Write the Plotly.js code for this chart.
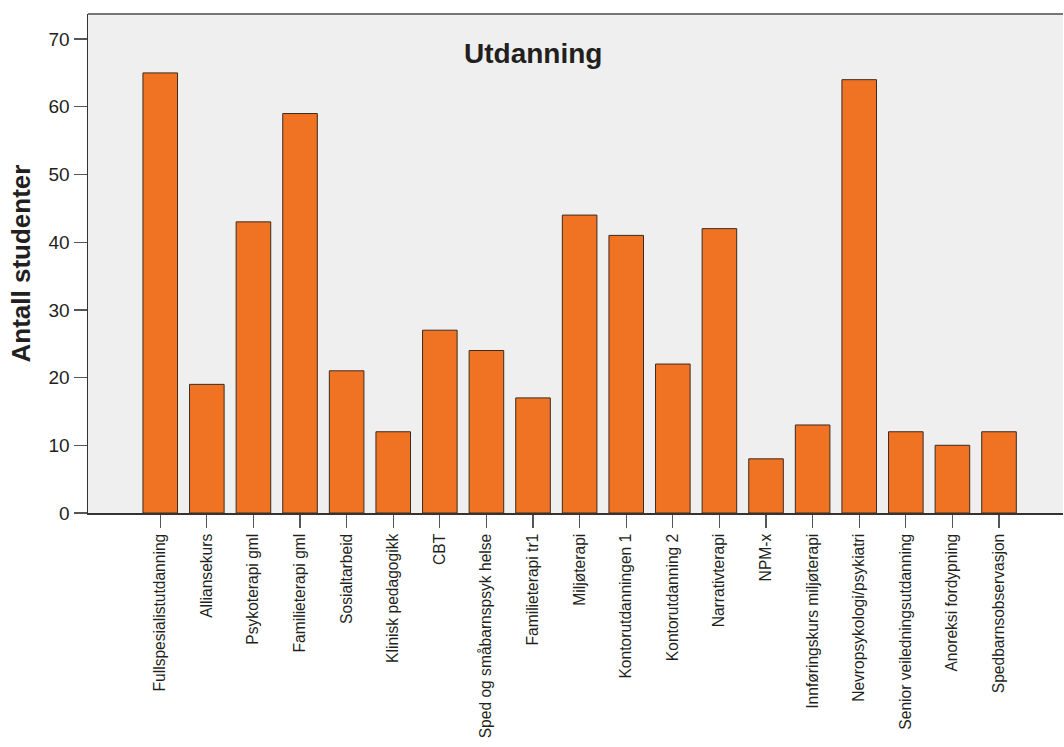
<!DOCTYPE html>
<html>
<head>
<meta charset="utf-8">
<script src="https://cdn.plot.ly/plotly-3.0.1.min.js"></script>
<style>html,body{margin:0;padding:0;background:#fff;}#chart{width:1064px;height:747px;}</style>
</head>
<body>
<div id="chart"></div>
<script>
const categories = [
  "Fullspesialistutdanning", "Alliansekurs", "Psykoterapi gml", "Familieterapi gml",
  "Sosialtarbeid", "Klinisk pedagogikk", "CBT", "Sped og småbarnspsyk helse",
  "Familieterapi tr1", "Miljøterapi", "Kontorutdanningen 1", "Kontorutdanning 2",
  "Narrativterapi", "NPM-x", "Innføringskurs miljøterapi", "Nevropsykologi/psykiatri",
  "Senior veiledningsutdanning", "Anoreksi fordypning", "Spedbarnsobservasjon"
];
const counts = [65, 19, 43, 59, 21, 12, 27, 24, 17, 44, 41, 22, 42, 8, 13, 64, 12, 10, 12];
const yTicks = [0, 10, 20, 30, 40, 50, 60, 70];
const chartTitle = "Utdanning";
const yTitle = "Antall studenter";

const font = "'Liberation Sans', Arial, Helvetica, sans-serif";
const textColor = "#231f20";

const trace = {
  type: "bar",
  x: categories,
  y: counts,
  marker: { color: "#f07323", line: { color: "#3d2a1f", width: 1 } },
  hoverinfo: "x+y"
};

const layout = {
  width: 1064,
  height: 747,
  margin: { l: 88, r: 1, t: 14, b: 234, pad: 0 },
  paper_bgcolor: "#ffffff",
  plot_bgcolor: "#eeefee",
  showlegend: false,
  bargap: 0.258,
  font: { family: font, color: textColor },
  xaxis: {
    type: "category",
    range: [-1.55, 19.373],
    showgrid: false,
    zeroline: false,
    showline: true,
    linecolor: "#333333",
    linewidth: 1.5,
    ticks: "outside",
    ticklen: 13,
    tickwidth: 1.3,
    tickcolor: "#555555",
    tickangle: -90,
    tickfont: { family: font, size: 15.6, color: textColor },
    automargin: false
  },
  yaxis: {
    range: [0, 73.7],
    tickvals: yTicks,
    showgrid: false,
    zeroline: false,
    showline: true,
    linecolor: "#333333",
    linewidth: 1.5,
    ticks: "outside",
    ticklen: 13,
    tickwidth: 1.3,
    tickcolor: "#555555",
    tickfont: { family: font, size: 19, color: textColor },
    title: { text: yTitle, font: { family: font, size: 26, color: textColor, weight: "bold" }, standoff: 10 },
    automargin: false
  },
  shapes: [
    { type: "line", xref: "paper", yref: "paper", x0: 0, x1: 1, y0: 1, y1: 1, line: { color: "#777777", width: 2 } }
  ],
  annotations: [
    {
      text: "<b>" + chartTitle + "</b>",
      xref: "paper", yref: "paper",
      x: 0.456, y: 0.92,
      xanchor: "center", yanchor: "middle",
      showarrow: false,
      font: { family: font, size: 28, color: textColor }
    }
  ]
};

Plotly.newPlot("chart", [trace], layout, { displayModeBar: false, staticPlot: true });
</script>
</body>
</html>
